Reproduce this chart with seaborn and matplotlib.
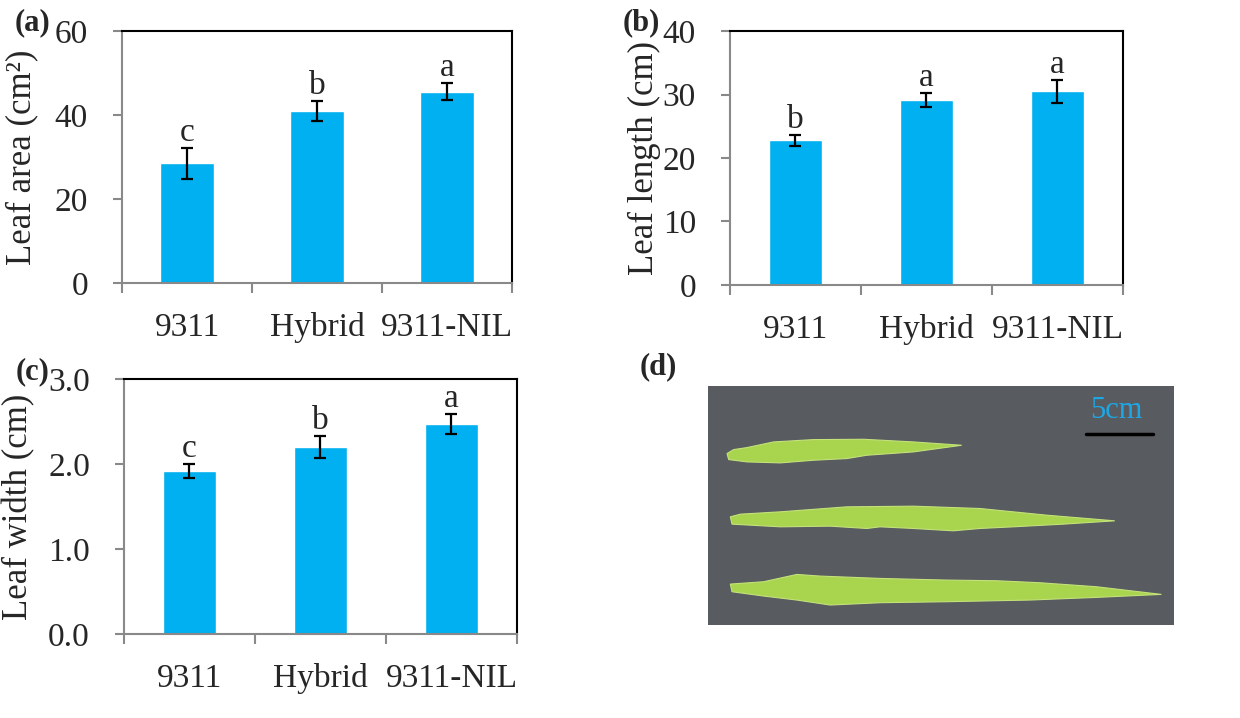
import numpy as np
import pandas as pd
import matplotlib
matplotlib.use("Agg")
import matplotlib.pyplot as plt
from matplotlib.patches import Polygon, Rectangle
from matplotlib.ticker import FormatStrFormatter
import seaborn as sns

# data
lines = ["9311", "Hybrid", "9311-NIL"]

leaf_area = [28.5, 41.0, 45.6]
leaf_area_err = [3.7, 2.35, 2.0]
leaf_area_sig = ["c", "b", "a"]

leaf_length = [22.8, 29.1, 30.5]
leaf_length_err = [0.9, 1.1, 1.8]
leaf_length_sig = ["b", "a", "a"]

leaf_width = [1.92, 2.20, 2.47]
leaf_width_err = [0.08, 0.135, 0.12]
leaf_width_sig = ["c", "b", "a"]

bar_blue = "#00B0F0"
axis_gray = "#898989"

sns.set_theme(style="white")
plt.rcParams["font.family"] = ["Liberation Serif", "DejaVu Serif"]
plt.rcParams["axes.unicode_minus"] = False


def bar_panel(ax, values, errs, sig, ylabel, ymax, step, fmt, label_x):
    df = pd.DataFrame({"line": lines, "value": values})
    sns.barplot(data=df, x="line", y="value", color=bar_blue, saturation=1,
                width=0.41, errorbar=None, ax=ax)
    ax.errorbar(range(len(lines)), values, yerr=errs, fmt="none", ecolor="black",
                elinewidth=1.6, capsize=4.5, capthick=1.6, zorder=3)
    for i, (v, e, s) in enumerate(zip(values, errs, sig)):
        ax.annotate(s, (i, v + e), xytext=(0, 0), textcoords="offset points",
                    ha="center", va="bottom", fontsize=24)
    ax.set_xlim(-0.5, 2.5)
    ax.set_ylim(0, ymax)
    ax.set_yticks(np.arange(0, ymax + step / 2, step))
    ax.yaxis.set_major_formatter(FormatStrFormatter(fmt))
    ax.set_xlabel("")
    ax.set_ylabel(ylabel, fontsize=25)
    ax.yaxis.set_label_coords(label_x, 0.5)
    for side in ["left", "bottom"]:
        ax.spines[side].set_color(axis_gray)
        ax.spines[side].set_linewidth(1.5)
    for side in ["top", "right"]:
        ax.spines[side].set_color("black")
        ax.spines[side].set_linewidth(1.5)
    ax.tick_params(axis="y", direction="out", length=6.5, width=1.5, color=axis_gray,
                   labelsize=24, pad=18, left=True)
    ax.tick_params(axis="x", which="major", length=0, labelsize=24, pad=21)
    ax.set_xticks([-0.5, 0.5, 1.5, 2.5], minor=True)
    ax.tick_params(axis="x", which="minor", direction="out", length=7, width=1.5,
                   color=axis_gray, bottom=True)


fig = plt.figure(figsize=(12.4, 7.18), dpi=100)

ax_a = fig.add_axes([0.0984, 0.6058, 0.3145, 0.351])
bar_panel(ax_a, leaf_area, leaf_area_err, leaf_area_sig, "Leaf area (cm²)", 60, 20, "%d", -0.215)

ax_b = fig.add_axes([0.5887, 0.6031, 0.3169, 0.3537])
bar_panel(ax_b, leaf_length, leaf_length_err, leaf_length_sig, "Leaf length (cm)", 40, 10, "%d", -0.176)

ax_c = fig.add_axes([0.100, 0.117, 0.3169, 0.3551])
bar_panel(ax_c, leaf_width, leaf_width_err, leaf_width_sig, "Leaf width (cm)", 3.0, 1.0, "%.1f", -0.226)

# (d) sketch of the leaf photograph
ax_d = fig.add_axes([0.571, 0.1295, 0.3758, 0.3329])
ax_d.set_xlim(83, 1483)
ax_d.set_ylim(795, 77)
ax_d.axis("off")
ax_d.add_patch(Rectangle((83, 77), 1400, 718, facecolor="#585b60", edgecolor="none"))

leaf_outlines = [
    [(140, 280), (160, 268), (200, 262), (280, 245), (400, 238), (550, 237), (700, 245),
     (845, 255), (700, 275), (560, 285), (500, 295), (400, 300), (300, 308), (200, 305),
     (145, 298)],
    [(150, 470), (180, 462), (300, 455), (500, 440), (700, 438), (900, 445), (1100, 465),
     (1305, 482), (1150, 492), (1000, 500), (900, 505), (820, 512), (700, 505), (600, 500),
     (560, 505), (450, 498), (300, 500), (155, 492)],
    [(150, 672), (250, 665), (350, 643), (420, 648), (600, 655), (800, 660), (950, 662),
     (1080, 668), (1250, 680), (1445, 703), (1250, 712), (1050, 720), (800, 725),
     (600, 728), (450, 735), (350, 720), (250, 708), (155, 695)],
]
for pts in leaf_outlines:
    ax_d.add_patch(Polygon(pts, closed=True, facecolor="#a8d44e", edgecolor="#c4e27a",
                           linewidth=0.8))

ax_d.plot([1218, 1420], [220, 220], color="black", linewidth=2.5)
ax_d.text(1310, 150, "5cm", color="#1ea7e4", fontsize=22, ha="center", va="center")

# panel letters
for x, y, s in [(0.026, 0.969, "(a)"), (0.517, 0.969, "(b)"),
                (0.026, 0.482, "(c)"), (0.531, 0.489, "(d)")]:
    fig.text(x, y, s, fontsize=22, fontweight="bold", ha="center", va="center")

fig.savefig("out.png", dpi=100)
